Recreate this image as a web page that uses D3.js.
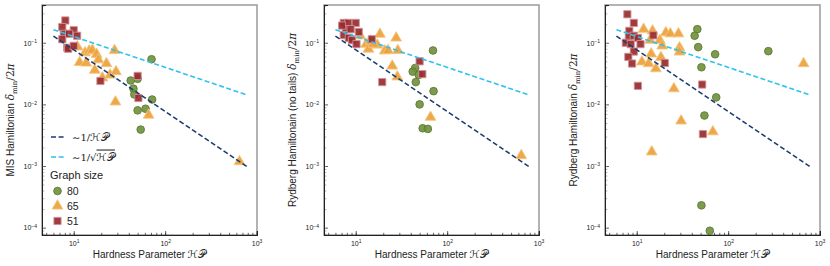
<!DOCTYPE html>
<html>
<head>
<meta charset="utf-8">
<script src="https://cdn.jsdelivr.net/npm/d3@7"></script>
<style>
  body { margin: 0; background: #fff; }
  text { font-family: "Liberation Sans", Arial, sans-serif; fill: #222; }
  .math { font-family: "DejaVu Serif", "Liberation Serif", serif; }
  .cal { font-family: "DejaVu Sans", "Noto Sans", serif; }
</style>
</head>
<body>
<svg id="chart" width="830" height="266"></svg>
<script>
// tick values
const hpTicks = [10, 100, 1000];
const deltaTicks = [1e-4, 1e-3, 1e-2, 1e-1];

// guide lines ~1/HP and ~1/sqrt(HP), endpoints
const fitHP = [6, 800];
const fitInv = [0.128, 0.00096];
const fitInvSqrt = [0.163, 0.0141];

const sizeLabels = ['80', '65', '51'];

// [hardness parameter, delta_min / 2pi]
const mis80 = [[71, 0.054], [42, 0.0244], [50, 0.026], [45, 0.018], [46, 0.0145], [72, 0.012],
  [50, 0.008], [61, 0.0085], [54, 0.0039]];
const mis65 = [[11, 0.086], [13.3, 0.069], [14.8, 0.074], [16, 0.076], [17.8, 0.065], [18.6, 0.053],
  [11.6, 0.048], [13.7, 0.047], [17, 0.036], [22.8, 0.046], [28, 0.075], [20.6, 0.027], [25, 0.030],
  [29, 0.034], [28.6, 0.011], [66, 0.0067], [650, 0.00118]];
const mis51 = [[8.1, 0.23], [7.5, 0.18], [10, 0.16], [7.8, 0.14], [7.5, 0.114], [8.9, 0.14],
  [10.9, 0.13], [8.5, 0.083], [8.7, 0.08], [10, 0.089], [19.6, 0.024], [50, 0.029], [51, 0.0127]];

const noTails80 = [[70, 0.075], [44.7, 0.039], [42, 0.034], [49, 0.030], [45.4, 0.023], [71, 0.0164],
  [50, 0.010], [54, 0.0041], [61.5, 0.0040]];
const noTails65 = [[11.2, 0.13], [13, 0.095], [13.8, 0.079], [14.5, 0.107], [17.2, 0.092], [18.4, 0.138],
  [20.8, 0.074], [22.6, 0.075], [27.7, 0.12], [28.9, 0.075], [25.1, 0.042], [28.5, 0.028],
  [65.8, 0.0062], [646, 0.00148], [15.6, 0.095]];
const noTails51 = [[7.4, 0.21], [8.3, 0.21], [10, 0.21], [7.8, 0.166], [8.8, 0.166], [10.8, 0.15],
  [7.4, 0.133], [8.4, 0.12], [9.1, 0.11], [10.2, 0.095], [15, 0.114], [19.5, 0.023], [50, 0.05],
  [53.5, 0.031], [7.1, 0.19]];

const rydberg80 = [[46, 0.166], [43, 0.13], [47, 0.085], [72, 0.065], [51, 0.04], [275, 0.073],
  [74, 0.013], [55, 0.0066], [51, 0.00023], [63, 0.000089]];
const rydberg65 = [[11.9, 0.166], [14.9, 0.156], [14, 0.11], [17.9, 0.11], [19, 0.089], [20.8, 0.146],
  [23.3, 0.14], [28.6, 0.14], [29.4, 0.083], [29.4, 0.071], [14.4, 0.066], [18.4, 0.058], [11.4, 0.049],
  [13.5, 0.046], [16.2, 0.038], [25.5, 0.018], [30.6, 0.0054], [14.6, 0.0017], [68, 0.0036], [668, 0.046]];
const rydberg51 = [[7.9, 0.29], [9.3, 0.21], [8.3, 0.156], [8.2, 0.125], [7.6, 0.1], [9.3, 0.13],
  [10.3, 0.12], [11, 0.095], [8.6, 0.095], [15.2, 0.132], [9.3, 0.072], [8.1, 0.059], [8.9, 0.046],
  [10.3, 0.02], [20.3, 0.047], [52, 0.021], [53, 0.0033]];

// styles for graph size 80 / 65 / 51
const markerStyles = [
  { symbol: d3.symbolCircle, size: 46, fill: '#72933f', stroke: '#5b7a30' },
  { symbol: d3.symbolTriangle, size: 50, fill: '#eba23a', stroke: '#f5c47e' },
  { symbol: d3.symbolSquare, size: 52, fill: '#982a2e', stroke: '#cf9296' }
];
const darkBlue = '#1b3d6f';
const lightBlue = '#2fc2ec';

const panels = [
  { left: 42, title: 'MIS Hamiltonian ', groups: [mis80, mis65, mis51], legend: true },
  { left: 324, title: 'Rydberg Hamiltonain (no tails) ', groups: [noTails80, noTails65, noTails51], legend: false },
  { left: 605, title: 'Rydberg Hamiltonain ', groups: [rydberg80, rydberg65, rydberg51], legend: false }
];

const plotW = 215, plotTop = 5, plotBottom = 235;
const svg = d3.select('#chart');

function supLabels(sel) {
  sel.selectAll('.tick text').each(function(d) {
    const t = d3.select(this);
    const e = Math.round(Math.log10(d));
    t.text('10');
    t.append('tspan').attr('dy', '-0.5em').attr('font-size', '5px')
      .text(e < 0 ? '\u2212' + (-e) : e);
  });
}

function mathLabel(t, prefix) {
  t.append('tspan').text(prefix);
  t.append('tspan').attr('class', 'math').attr('font-style', 'italic').attr('font-size', '10.5px').text('\u03b4');
  t.append('tspan').attr('class', 'math').attr('font-size', '7px').attr('dy', 2.5).text('min');
  t.append('tspan').attr('class', 'math').attr('font-size', '10.5px').attr('dy', -2.5).text('/2');
  t.append('tspan').attr('class', 'math').attr('font-style', 'italic').attr('font-size', '10.5px').text('\u03c0');
}

function hpLabel(t, overline) {
  const s = t.append('tspan').attr('class', 'cal').attr('font-size', '10.5px').text('\u210b\ud835\udcab');
  if (overline) s.style('text-decoration', 'overline');
}

panels.forEach(p => {
  const x = d3.scaleLog().domain([4.5, 1010]).range([p.left, p.left + plotW]);
  const y = d3.scaleLog().domain([7.6e-5, 0.41]).range([plotBottom, plotTop]);
  const g = svg.append('g');

  // frame
  g.append('rect')
    .attr('x', p.left).attr('y', plotTop)
    .attr('width', plotW).attr('height', plotBottom - plotTop)
    .attr('fill', 'none').attr('stroke', '#a0a0a0').attr('stroke-width', 1.6);

  // x axis
  const xMinor = g.append('g').attr('transform', `translate(0,${plotBottom})`)
    .call(d3.axisBottom(x).tickValues(x.ticks()).tickSize(-2.2).tickFormat(''));
  const xMajor = g.append('g').attr('transform', `translate(0,${plotBottom})`)
    .call(d3.axisBottom(x).tickValues(hpTicks).tickSize(-4).tickPadding(6));
  [xMinor, xMajor].forEach(a => {
    a.select('.domain').attr('stroke', '#222').attr('stroke-width', 1);
    a.selectAll('.tick line').attr('stroke', '#222').attr('stroke-width', 0.7);
  });
  xMajor.selectAll('.tick text').attr('font-size', '7px').attr('fill', '#333')
    .attr('font-family', '"Liberation Sans", Arial, sans-serif');
  supLabels(xMajor);

  // y axis
  const yMinor = g.append('g').attr('transform', `translate(${p.left},0)`)
    .call(d3.axisLeft(y).tickValues(y.ticks()).tickSize(-2.2).tickFormat(''));
  const yMajor = g.append('g').attr('transform', `translate(${p.left},0)`)
    .call(d3.axisLeft(y).tickValues(deltaTicks).tickSize(-4).tickPadding(5));
  [yMinor, yMajor].forEach(a => {
    a.select('.domain').attr('stroke', '#222').attr('stroke-width', 1);
    a.selectAll('.tick line').attr('stroke', '#222').attr('stroke-width', 0.7).attr('x1', 1.5);
  });
  yMajor.selectAll('.tick text').attr('font-size', '7px').attr('fill', '#333')
    .attr('font-family', '"Liberation Sans", Arial, sans-serif');
  supLabels(yMajor);

  // axis titles
  const xt = g.append('text')
    .attr('x', p.left + plotW / 2).attr('y', 258)
    .attr('text-anchor', 'middle').attr('font-size', '10px');
  xt.append('tspan').text('Hardness Parameter ');
  hpLabel(xt, false);

  const yt = g.append('text')
    .attr('transform', `translate(${p.left - 28},${(plotTop + plotBottom) / 2}) rotate(-90)`)
    .attr('text-anchor', 'middle').attr('font-size', '10px');
  mathLabel(yt, p.title);

  // points
  p.groups.forEach((data, i) => {
    const st = markerStyles[i];
    g.append('g').selectAll('path')
      .data(data)
      .join('path')
      .attr('d', d3.symbol().type(st.symbol).size(st.size))
      .attr('transform', d => `translate(${x(d[0])},${y(d[1])})`)
      .attr('fill', st.fill)
      .attr('fill-opacity', 0.92)
      .attr('stroke', st.stroke)
      .attr('stroke-width', 0.9);
  });

  // guide lines
  const line = d3.line().x(d => x(d[0])).y(d => y(d[1]));
  g.append('path')
    .attr('d', line(d3.zip(fitHP, fitInv)))
    .attr('fill', 'none').attr('stroke', darkBlue)
    .attr('stroke-width', 1.6).attr('stroke-dasharray', '5,2.6');
  g.append('path')
    .attr('d', line(d3.zip(fitHP, fitInvSqrt)))
    .attr('fill', 'none').attr('stroke', lightBlue)
    .attr('stroke-width', 1.6).attr('stroke-dasharray', '5,2.6');

  // legend in first panel
  if (p.legend) {
    const lg = g.append('g');
    const lx = p.left + 9;
    [[darkBlue, 137, false], [lightBlue, 157, true]].forEach(([c, ly, sq]) => {
      lg.append('line')
        .attr('x1', lx).attr('x2', lx + 15).attr('y1', ly).attr('y2', ly)
        .attr('stroke', c).attr('stroke-width', 1.6).attr('stroke-dasharray', '5,2.6');
      const t = lg.append('text').attr('x', lx + 21).attr('y', ly + 3.5)
        .attr('class', 'math').attr('font-size', '10px');
      t.append('tspan').text(sq ? '\u223c1/\u221a' : '\u223c1/');
      hpLabel(t, sq);
    });
    lg.append('text').attr('x', p.left + 8).attr('y', 179)
      .attr('font-size', '11px').text('Graph size');
    sizeLabels.forEach((lab, i) => {
      const st = markerStyles[i];
      const ly = 191 + i * 15;
      lg.append('path')
        .attr('d', d3.symbol().type(st.symbol).size(st.size))
        .attr('transform', `translate(${p.left + 15.5},${ly})`)
        .attr('fill', st.fill).attr('fill-opacity', 0.92)
        .attr('stroke', st.stroke).attr('stroke-width', 0.9);
      lg.append('text').attr('x', p.left + 25).attr('y', ly + 3.8)
        .attr('font-size', '10.5px').text(lab);
    });
  }
});
</script>
</body>
</html>
